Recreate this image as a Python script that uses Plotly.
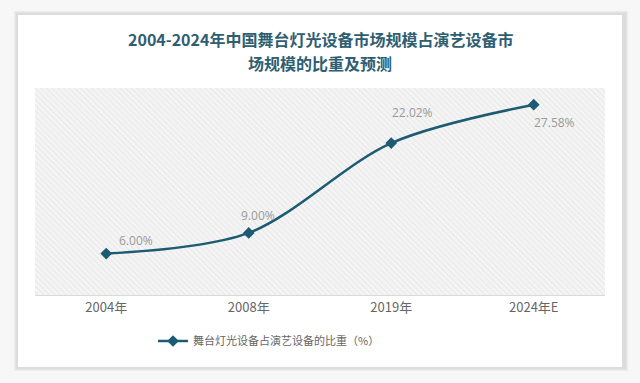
import plotly.graph_objects as go

categories = ["2004年", "2008年", "2019年", "2024年E"]
values = [6.00, 9.00, 22.02, 27.58]
labels = ["6.00%", "9.00%", "22.02%", "27.58%"]
label_dx = [30, 9, 21, 21]
label_dy = [13, 17, 31, -18]
series_name = "舞台灯光设备占演艺设备的比重（%）"
title_lines = ["2004-2024年中国舞台灯光设备市场规模占演艺设备市", "场规模的比重及预测"]

y_max = 30
line_color = "#1d5b73"

W, H = 640, 383
L, R, T, B = 35, 35, 88, 88
PW, PH = W - L - R, H - T - B


def px(x):
    return (x - L) / PW


def py(y):
    return (H - B - y) / PH


fig = go.Figure()

# hatched plot background
fig.add_trace(go.Bar(
    x=categories, y=[y_max] * len(categories), width=1,
    marker=dict(color="#f5f5f5", line=dict(width=0),
                pattern=dict(shape="\\", fgcolor="#dcdcdc", bgcolor="#f5f5f5", size=4, solidity=0.3)),
    hoverinfo="skip", showlegend=False,
))

fig.add_trace(go.Scatter(
    x=categories, y=values, name=series_name,
    mode="lines+markers",
    line=dict(color=line_color, width=2.5, shape="spline", smoothing=0.9),
    marker=dict(symbol="diamond", size=9, color=line_color),
    hoverinfo="x+y",
))

for c, v, t, dx, dy in zip(categories, values, labels, label_dx, label_dy):
    fig.add_annotation(x=c, y=v, text=t, showarrow=False, xshift=dx, yshift=dy,
                       font=dict(color="#9a9a9a", size=12, family="Open Sans, sans-serif"))

for i, line in enumerate(title_lines):
    fig.add_annotation(xref="paper", yref="paper", x=0.5, y=py(39 + 24 * i), text="<b>" + line + "</b>",
                       showarrow=False, xanchor="center", yanchor="middle",
                       font=dict(family="Noto Sans CJK SC, sans-serif", size=16, color="#2e5e72"))

# card with shadow
for i, c in enumerate(["#ececec", "#e4e4e4", "#dcdcdc"]):
    d = 4 - i
    fig.add_shape(type="rect", xref="paper", yref="paper",
                  x0=px(18 - d), x1=px(622 + d + 2), y0=py(367 + d), y1=py(15 - d),
                  fillcolor=c, line=dict(width=0), layer="below")
fig.add_shape(type="rect", xref="paper", yref="paper",
              x0=px(18), x1=px(622), y0=py(367), y1=py(15),
              fillcolor="white", line=dict(width=0), layer="below")

fig.update_layout(
    width=W, height=H,
    margin=dict(l=L, r=R, t=T, b=B),
    paper_bgcolor="#f7f7f7",
    plot_bgcolor="rgba(0,0,0,0)",
    xaxis=dict(type="category", range=[-0.5, 3.5], showgrid=False, zeroline=False,
               showline=True, linecolor="#d9d9d9", ticks="", fixedrange=True,
               tickfont=dict(family="Noto Sans CJK SC, sans-serif", size=13, color="#666666")),
    yaxis=dict(range=[0, y_max], visible=False, fixedrange=True),
    showlegend=True,
    legend=dict(orientation="h", x=px(153), xanchor="left", y=py(341), yanchor="middle",
                font=dict(family="Noto Sans CJK SC, sans-serif", size=11, color="#666666"),
                bgcolor="rgba(0,0,0,0)"),
    bargap=0,
)

fig.write_html("out.html", config={"displayModeBar": False},
               post_script="document.body.style.margin='0';")
